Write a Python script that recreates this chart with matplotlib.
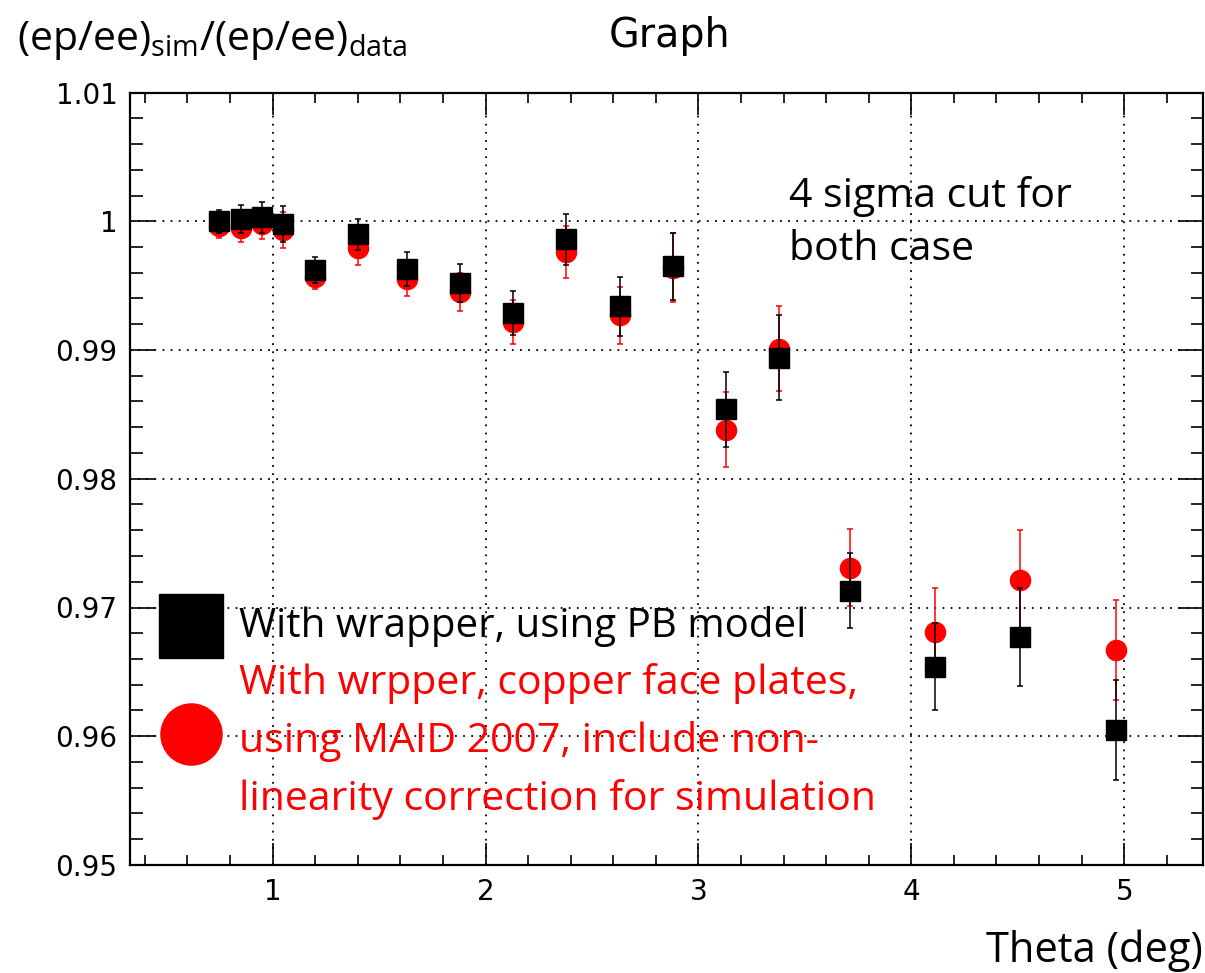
import matplotlib
matplotlib.use("Agg")
import matplotlib.pyplot as plt
from matplotlib.ticker import MultipleLocator
import numpy as np

# DATA
theta = [0.75, 0.85, 0.95, 1.05, 1.20, 1.40, 1.63, 1.88, 2.13, 2.38,
         2.63, 2.88, 3.13, 3.38, 3.71, 4.11, 4.51, 4.96]

# with wrapper, PB model (black squares)
pb_ratio = [1.0000, 1.0002, 1.0003, 0.9998, 0.9962, 0.9990, 0.9963, 0.9952, 0.9929, 0.9986,
            0.9934, 0.9965, 0.9854, 0.9894, 0.9713, 0.9654, 0.9677, 0.9605]
pb_err = [0.0009, 0.0011, 0.0012, 0.0014, 0.0010, 0.0012, 0.0013, 0.0015, 0.0017, 0.0020,
          0.0023, 0.0026, 0.0029, 0.0033, 0.0029, 0.0034, 0.0038, 0.0039]

# copper face plates, MAID 2007, nonlinearity corr. (red circles)
maid_ratio = [0.9996, 0.9995, 0.9998, 0.9993, 0.9957, 0.9979, 0.9955, 0.9945, 0.9922, 0.9976,
              0.9927, 0.9964, 0.9838, 0.9901, 0.9731, 0.9681, 0.9721, 0.9667]
maid_err = [0.0009, 0.0011, 0.0012, 0.0014, 0.0010, 0.0013, 0.0013, 0.0015, 0.0017, 0.0020,
            0.0022, 0.0027, 0.0029, 0.0033, 0.0030, 0.0034, 0.0039, 0.0039]

W, H = 1205, 973


def fx(px):
    return px / W


def fy(py):
    return 1 - py / H


# PLOT
plt.rcParams["mathtext.fontset"] = "custom"
plt.rcParams["mathtext.rm"] = "Open Sans"
plt.rcParams["mathtext.it"] = "Open Sans:italic"

fig = plt.figure(figsize=(W / 100, H / 100), dpi=100)
ax = fig.add_axes([fx(130), fy(865), fx(1203) - fx(130), fy(92.5) - fy(865)])

ax.errorbar(theta, maid_ratio, yerr=maid_err, fmt="o", color="red", ms=14.5,
            elinewidth=1.1, capsize=2.5, capthick=1.1, zorder=3)
ax.errorbar(theta, pb_ratio, yerr=pb_err, fmt="s", color="black", ms=14.5,
            elinewidth=1.1, capsize=2.5, capthick=1.1, zorder=4)

ax.set_xlim(0.33, 5.37)
ax.set_ylim(0.95, 1.01)
ax.xaxis.set_minor_locator(MultipleLocator(0.2))
ax.yaxis.set_minor_locator(MultipleLocator(0.002))
ax.set_yticks([0.95, 0.96, 0.97, 0.98, 0.99, 1.0, 1.01])
ax.set_yticklabels(["0.95", "0.96", "0.97", "0.98", "0.99", "1", "1.01"])
ax.set_xticks([1, 2, 3, 4, 5])
ax.set_xticklabels(["1", "2", "3", "4", "5"])

ax.tick_params(which="both", direction="in", top=True, right=True,
               labelsize=20, width=1.2)
ax.tick_params(axis="x", which="major", length=16, pad=9)
ax.tick_params(axis="x", which="minor", length=7)
ax.tick_params(axis="y", which="major", length=18, pad=9)
ax.tick_params(axis="y", which="minor", length=9)
for lab in ax.get_xticklabels() + ax.get_yticklabels():
    lab.set_fontfamily("DejaVu Sans")
for sp in ax.spines.values():
    sp.set_linewidth(1.6)

ax.grid(True, which="major", color="black", linestyle=(0, (1, 3.5)), linewidth=1.3)

# legend-like annotations
fig.lines.append(plt.Line2D([fx(191)], [fy(626)], marker="s", ms=46, color="black",
                            transform=fig.transFigure, figure=fig))
fig.lines.append(plt.Line2D([fx(191)], [fy(734)], marker="o", ms=44, color="red",
                            transform=fig.transFigure, figure=fig))

txt_font = "Open Sans"
fig.text(fx(239), fy(637), "With wrapper, using PB model", fontsize=29,
         family=txt_font, color="black", va="baseline")
red_lines = ["With wrpper, copper face plates,",
             "using MAID 2007, include non-",
             "linearity correction for simulation"]
for i, line in enumerate(red_lines):
    fig.text(fx(239), fy(694 + 58 * i), line, fontsize=29.5, family=txt_font,
             color="red", va="baseline")

fig.text(fx(789), fy(207), "4 sigma cut for", fontsize=29.5, family=txt_font, va="baseline")
fig.text(fx(789), fy(260), "both case", fontsize=29.5, family=txt_font, va="baseline")

fig.text(fx(670), fy(47), "Graph", fontsize=28.5, family="DejaVu Sans",
         ha="center", va="baseline")
fig.text(fx(17), fy(50), r"$\mathrm{(ep/ee)_{sim}/(ep/ee)_{data}}$", fontsize=29.5,
         va="baseline")
fig.text(fx(1203), fy(962), "Theta (deg)", fontsize=30, family=txt_font,
         ha="right", va="baseline")

fig.savefig("out.png", dpi=100)
